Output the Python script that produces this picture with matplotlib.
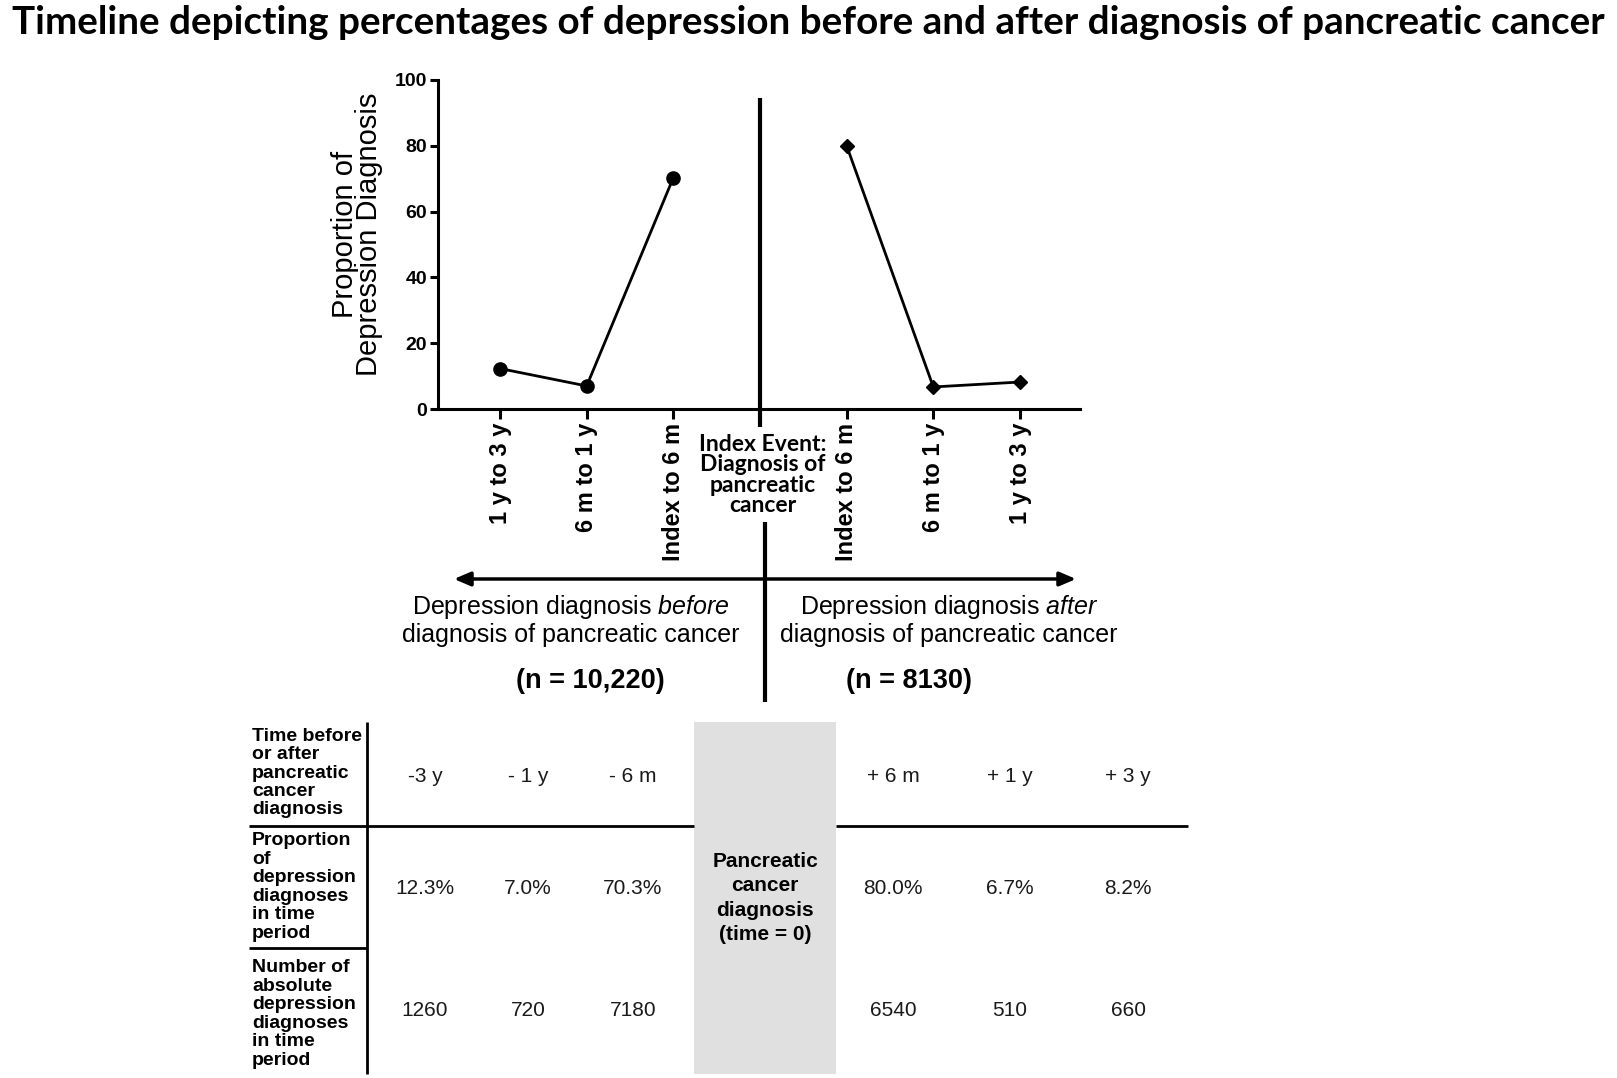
import matplotlib
matplotlib.use("Agg")
import matplotlib.pyplot as plt
from matplotlib.patches import Rectangle

# ---------------- data ----------------
title = "Timeline depicting percentages of depression before and after diagnosis of pancreatic cancer"
before_labels = ["1 y to 3 y", "6 m to 1 y", "Index to 6 m"]
after_labels = ["Index to 6 m", "6 m to 1 y", "1 y to 3 y"]
before_pct = [12.3, 7.0, 70.3]
after_pct = [80.0, 6.7, 8.2]
y_ticks = [0, 20, 40, 60, 80, 100]
ylabel = "Proportion of\nDepression Diagnosis"
index_label = "Index Event:\nDiagnosis of\npancreatic\ncancer"
before_caption = "Depression diagnosis $\\it{before}$\ndiagnosis of pancreatic cancer"
after_caption = "Depression diagnosis $\\it{after}$\ndiagnosis of pancreatic cancer"
n_before = "(n = 10,220)"
n_after = "(n = 8130)"
row_headers = ["Time before\nor after\npancreatic\ncancer\ndiagnosis",
               "Proportion\nof\ndepression\ndiagnoses\nin time\nperiod",
               "Number of\nabsolute\ndepression\ndiagnoses\nin time\nperiod"]
time_before = ["-3 y", "- 1 y", "- 6 m"]
time_after = ["+ 6 m", "+ 1 y", "+ 3 y"]
count_before = [1260, 720, 7180]
count_after = [6540, 510, 660]
center_box_text = "Pancreatic\ncancer\ndiagnosis\n(time = 0)"

# ---------------- figure ----------------
W, H = 1617, 1078
DPI = 100
plt.rcParams['mathtext.fontset'] = 'custom'
plt.rcParams['mathtext.rm'] = 'Liberation Sans'
plt.rcParams['mathtext.it'] = 'Liberation Sans:italic'
plt.rcParams['font.family'] = ['Liberation Sans', 'DejaVu Sans']

fig = plt.figure(figsize=(W / DPI, H / DPI), dpi=DPI, facecolor='white')

# overlay axes in pixel coordinates
ov = fig.add_axes([0, 0, 1, 1], zorder=0)
ov.set_xlim(0, W)
ov.set_ylim(H, 0)
ov.axis('off')

# main plot axes
ax_l, ax_r, ax_t, ax_b = 438, 1080, 80, 409
ax = fig.add_axes([ax_l / W, 1 - ax_b / H, (ax_r - ax_l) / W, (ax_b - ax_t) / H], zorder=2)
ax.patch.set_alpha(0)

xb = [1, 2, 3]
xa = [5, 6, 7]
x_index = 4
unit = (1020 - 500) / 6.0
ax.set_xlim(1 - (500 - ax_l) / unit, 7 + (ax_r - 1020) / unit)
ax.set_ylim(0, 100)

ax.plot(xb, before_pct, color='black', lw=2.0, marker='o', markersize=9.5, zorder=3)
ax.plot(xa, after_pct, color='black', lw=2.0, marker='D', markersize=7.5, zorder=3)

# center vertical line (index event)
ytop = (ax_b - 98) / (ax_b - ax_t) * 100
ybot = (ax_b - 427) / (ax_b - ax_t) * 100
ax.plot([x_index, x_index], [ytop, ybot], color='black', lw=3, clip_on=False, solid_capstyle='butt')

for s in ['top', 'right']:
    ax.spines[s].set_visible(False)
for s in ['left', 'bottom']:
    ax.spines[s].set_linewidth(2.2)

ax.set_yticks(y_ticks)
ax.set_yticklabels([str(v) for v in y_ticks], fontsize=14, fontweight='bold')
ax.set_xticks(xb + xa)
ax.set_xticklabels(before_labels + after_labels, rotation=90, fontsize=17, fontweight='bold')
ax.tick_params(axis='both', direction='out', length=7, width=2.2, pad=3)
ax.tick_params(axis='y', length=6, pad=2)

# y label
ov.text(357, 234, ylabel, rotation=90, ha='center', va='center', fontsize=21,
        multialignment='center', linespacing=0.78)

# title
ov.text(808, 22, title, ha='center', va='center', fontsize=27.8, fontweight='bold',
        family=['Lato', 'DejaVu Sans'])

# index event text
ov.text(763, 475, index_label, ha='center', va='center', fontsize=16.5, fontweight='bold',
        family=['Lato', 'DejaVu Sans'], multialignment='center', linespacing=0.97)

# lower center line
ov.plot([765, 765], [522, 702], color='black', lw=3, solid_capstyle='butt')

# timeline arrow
ov.annotate("", xy=(1076, 579), xytext=(454, 579),
            arrowprops=dict(arrowstyle="<|-|>,head_length=0.7,head_width=0.3",
                            lw=2.5, color='black', shrinkA=0, shrinkB=0, mutation_scale=14))

# captions
ov.text(571, 620, before_caption, ha='center', va='center', fontsize=18,
        multialignment='center', linespacing=1.1)
ov.text(949, 620, after_caption, ha='center', va='center', fontsize=18,
        multialignment='center', linespacing=1.1)
ov.text(590, 681, n_before, ha='center', va='center', fontsize=19.5, fontweight='bold')
ov.text(909, 681, n_after, ha='center', va='center', fontsize=19.5, fontweight='bold')

# ---------------- table ----------------
ov.add_patch(Rectangle((694, 722), 142, 352, facecolor='#e0e0e0', edgecolor='none', zorder=0))
ov.text(765, 898, center_box_text, ha='center', va='center', fontsize=15, fontweight='bold',
        multialignment='center', linespacing=1.37, zorder=2)

tl = 2.0
ov.plot([367, 367], [722, 1074], color='black', lw=tl, solid_capstyle='butt')
ov.plot([249, 694], [826, 826], color='black', lw=tl, solid_capstyle='butt')
ov.plot([836, 1188], [826, 826], color='black', lw=tl, solid_capstyle='butt')
ov.plot([249, 367], [948, 948], color='black', lw=tl, solid_capstyle='butt')

row_hdr_y = [773, 887, 1014]
for txt, y in zip(row_headers, row_hdr_y):
    ov.text(252, y, txt, ha='left', va='center', fontsize=14, fontweight='bold',
            linespacing=1.11)

col_before_x = [425, 528, 633]
col_after_x = [893, 1010, 1128]
row_y = [776, 889, 1011]
cell_color = '#1a1a1a'
fs_cell = 15
for i in range(3):
    ov.text(col_before_x[i], row_y[0], time_before[i], ha='center', va='center', fontsize=fs_cell, color=cell_color)
    ov.text(col_before_x[i], row_y[1], f"{before_pct[i]:.1f}%", ha='center', va='center', fontsize=fs_cell, color=cell_color)
    ov.text(col_before_x[i], row_y[2], str(count_before[i]), ha='center', va='center', fontsize=fs_cell, color=cell_color)
    ov.text(col_after_x[i], row_y[0], time_after[i], ha='center', va='center', fontsize=fs_cell, color=cell_color)
    ov.text(col_after_x[i], row_y[1], f"{after_pct[i]:.1f}%", ha='center', va='center', fontsize=fs_cell, color=cell_color)
    ov.text(col_after_x[i], row_y[2], str(count_after[i]), ha='center', va='center', fontsize=fs_cell, color=cell_color)

fig.savefig("out.png", dpi=DPI, facecolor='white')
